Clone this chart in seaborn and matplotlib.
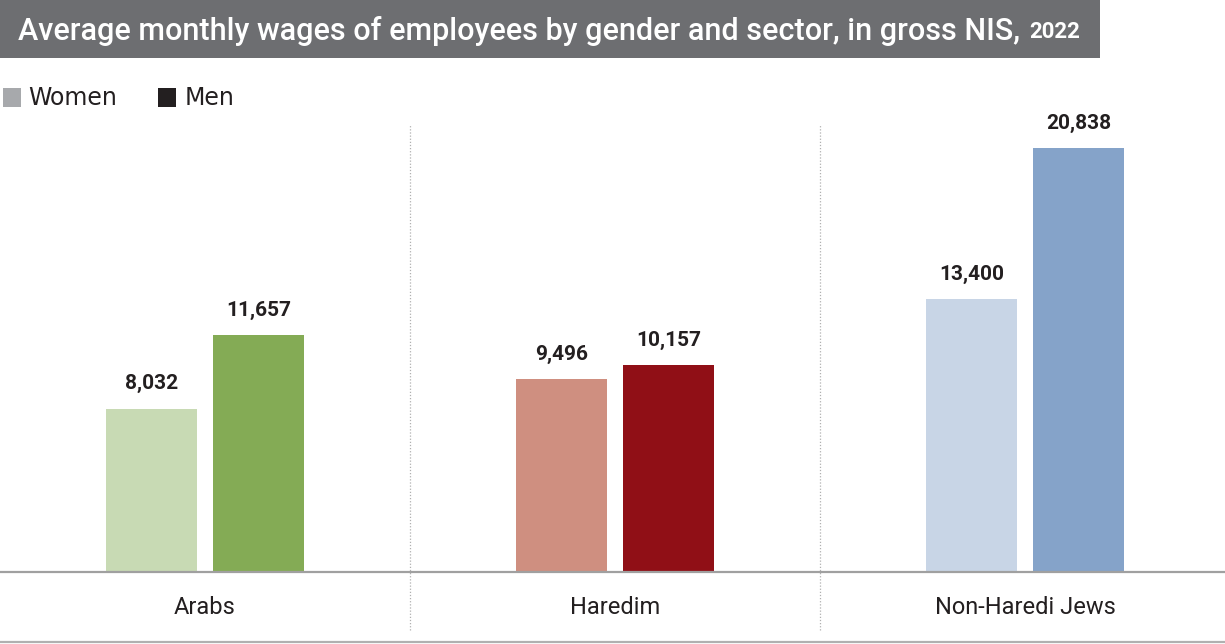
import matplotlib
matplotlib.use("Agg")
import matplotlib.pyplot as plt
from matplotlib.patches import Rectangle
from matplotlib.lines import Line2D
import seaborn as sns
import pandas as pd

# Data
sectors = ["Arabs", "Haredim", "Non-Haredi Jews"]
women = [8032, 9496, 13400]
men = [11657, 10157, 20838]
genders = ["Women", "Men"]

women_colors = ["#c8dab4", "#cf8f80", "#c8d5e6"]
men_colors = ["#84ab55", "#900f16", "#85a3c9"]
legend_colors = ["#a7a9ac", "#231f20"]

df = pd.DataFrame({
    "sector": sectors * 2,
    "gender": ["Women"] * 3 + ["Men"] * 3,
    "wage": women + men,
})

sns.set_theme(style="white")
plt.rcParams["font.family"] = ["Roboto", "DejaVu Sans"]

W, H = 1225, 644
fig = plt.figure(figsize=(W / 100, H / 100), dpi=100)

base_px = 572
ymax = 22000
px_per_unit = 424 / 20838
ax_h_px = ymax * px_per_unit
ax = fig.add_axes([0, (H - base_px) / H, 1230 / W, ax_h_px / H])

sns.barplot(data=df, x="sector", y="wage", hue="gender", hue_order=genders,
            order=sectors, width=0.524, gap=0.15, ax=ax, legend=False,
            palette=legend_colors, saturation=1)

for bar, c in zip(ax.containers[0], women_colors):
    bar.set_facecolor(c)
    bar.set_edgecolor("none")
for bar, c in zip(ax.containers[1], men_colors):
    bar.set_facecolor(c)
    bar.set_edgecolor("none")

for cont in ax.containers:
    ax.bar_label(cont, labels=[f"{v:,.0f}" for v in cont.datavalues],
                 padding=11, fontsize=15, fontweight="bold", color="#231f20")

ax.set_xlim(-0.5, 2.5)
ax.set_ylim(0, ymax)
ax.set_xlabel("")
ax.set_ylabel("")
ax.set_yticks([])
ax.tick_params(axis="x", length=0, pad=17, labelsize=17, labelcolor="#231f20")
for s in ["top", "left", "right"]:
    ax.spines[s].set_visible(False)
ax.spines["bottom"].set_color("#a0a0a0")
ax.spines["bottom"].set_linewidth(1.6)

# Dotted separators between sectors
for xs in [0.5, 1.5]:
    ax.axvline(xs, ymin=-58 / ax_h_px, ymax=1, color="#b0b0b0", lw=0.9,
               ls=(0, (1, 1.5)), clip_on=False, zorder=0)

# Bottom rule
fig.add_artist(Line2D([0, 1], [2 / H, 2 / H], color="#b0b0b0", lw=1.6,
                      transform=fig.transFigure))

# Title banner
fig.add_artist(Rectangle((0, 1 - 58 / H), 1100 / W, 58 / H,
                         transform=fig.transFigure, facecolor="#6d6e71",
                         edgecolor="none"))
t = fig.text(18 / W, 1 - 31 / H,
             "Average monthly wages of employees by gender and sector, in gross NIS, ",
             color="white", fontsize=22, fontweight="medium", va="center", ha="left")
fig.canvas.draw()
bb = t.get_window_extent()
fig.text((bb.x1 + 2) / W, 1 - 32 / H, "2022", color="white", fontsize=16,
         fontweight="bold", va="center", ha="left")

# Legend: colour keys and labels
legend_items = [("Women", legend_colors[0], 3, 28), ("Men", legend_colors[1], 158, 185)]
for label, color, sq_x, tx_x in legend_items:
    fig.add_artist(Rectangle((sq_x / W, 1 - 107 / H), 18 / W, 19 / H,
                             transform=fig.transFigure, facecolor=color,
                             edgecolor="none"))
    fig.text(tx_x / W, 1 - 98 / H, label, fontsize=17, color="#231f20",
             family="DejaVu Sans", va="center", ha="left")

fig.savefig("out.png", dpi=100)
